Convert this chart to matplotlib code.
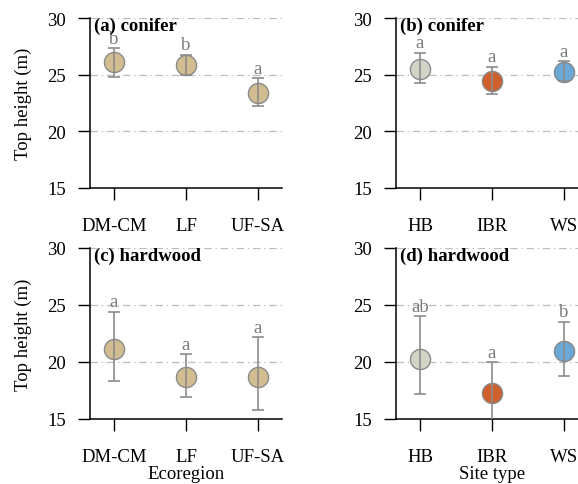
import matplotlib
matplotlib.use("Agg")
import matplotlib.pyplot as plt

plt.rcParams['font.family'] = ['Liberation Serif', 'DejaVu Serif']
plt.rcParams['font.size'] = 13.5

# data
ecoregions = ["DM-CM", "LF", "UF-SA"]
site_types = ["HB", "IBR", "WS"]

# (a) conifer by ecoregion
a_mean = [26.1, 25.85, 23.4]
a_low = [24.8, 25.0, 22.25]
a_high = [27.35, 26.75, 24.7]
a_letters = ["b", "b", "a"]

# (b) conifer by site type
b_mean = [25.5, 24.4, 25.2]
b_low = [24.3, 23.3, 24.45]
b_high = [26.95, 25.7, 26.2]
b_letters = ["a", "a", "a"]

# (c) hardwood by ecoregion
c_mean = [21.1, 18.7, 18.7]
c_low = [18.3, 16.9, 15.8]
c_high = [24.4, 20.7, 22.2]
c_letters = ["a", "a", "a"]

# (d) hardwood by site type
d_mean = [20.3, 17.3, 21.0]
d_low = [17.2, 14.6, 18.8]
d_high = [24.0, 20.0, 23.55]
d_letters = ["ab", "a", "b"]

eco_colors = ["#D2BD91", "#D2BD91", "#D2BD91"]
site_colors = ["#D4D4C6", "#CF5F2C", "#6BA8D6"]

W, H = 578, 485
fig = plt.figure(figsize=(W / 100, H / 100), dpi=100)

def px_axes(left, top, right, bottom):
    return fig.add_axes([left / W, (H - bottom) / H, (right - left) / W, (bottom - top) / H])

panels = [
    (px_axes(90, 19, 282, 189), ecoregions, a_mean, a_low, a_high, a_letters, eco_colors, "(a) conifer", True, None),
    (px_axes(396, 19, 588, 189), site_types, b_mean, b_low, b_high, b_letters, site_colors, "(b) conifer", False, None),
    (px_axes(90, 249, 282, 420), ecoregions, c_mean, c_low, c_high, c_letters, eco_colors, "(c) hardwood", True, "Ecoregion"),
    (px_axes(396, 249, 588, 420), site_types, d_mean, d_low, d_high, d_letters, site_colors, "(d) hardwood", False, "Site type"),
]

for ax, cats, mean, low, high, letters, colors, title, ylab, xlab in panels:
    x = list(range(len(cats)))
    for xi, m, c in zip(x, mean, colors):
        ax.plot(xi, m, "o", ms=14.5, mfc=c, mec="#8a8a8a", mew=1.0, zorder=3)
    yerr = [[m - lo for m, lo in zip(mean, low)], [hi - m for m, hi in zip(mean, high)]]
    ax.errorbar(x, mean, yerr=yerr, fmt="none", ecolor="#8c8c8c", elinewidth=1.2,
                capsize=4.5, capthick=1.2, zorder=4)
    for xi, hi, t in zip(x, high, letters):
        ax.annotate(t, (xi, hi), xytext=(0, 1), textcoords="offset points",
                    ha="center", va="bottom", color="#7a7a7a", fontsize=13.5, zorder=5)
    ax.set_xlim(-0.333, 2.333)
    ax.set_ylim(15, 30)
    ax.set_yticks([15, 20, 25, 30])
    ax.set_xticks(x)
    ax.set_xticklabels(cats)
    for yv in [20, 25, 30]:
        ax.axhline(yv, color="#bdbdbd", lw=0.9, ls="-.", dashes=(6, 3, 1, 3), zorder=1)
    for s in ["top", "right"]:
        ax.spines[s].set_visible(False)
    ax.spines["left"].set_linewidth(1.1)
    ax.spines["bottom"].set_linewidth(1.1)
    ax.tick_params(axis="both", length=8.5, width=1.0, direction="out")
    ax.tick_params(axis="y", pad=9)
    ax.tick_params(axis="x", pad=12.5)
    ax.text(0.02, 1.01, title, transform=ax.transAxes, ha="left", va="top",
            fontweight="bold", fontsize=13.5, zorder=6)
    if ylab:
        ax.set_ylabel("Top height (m)", labelpad=11)
    if xlab:
        ax.set_xlabel(xlab, labelpad=0)

fig.savefig("out.png", dpi=100)
